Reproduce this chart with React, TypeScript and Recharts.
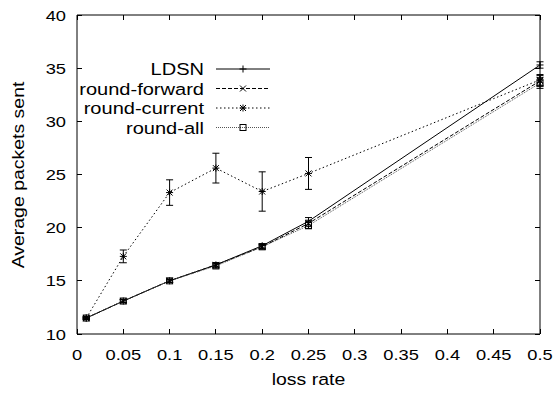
import React from 'react';
import { LineChart, Line, XAxis, YAxis, ErrorBar, Legend } from 'recharts';

// loss rate on x, average packets sent on y
const lossRate = [0.01, 0.05, 0.1, 0.15, 0.2, 0.25, 0.5];
const ldsn = [11.5, 13.1, 15.0, 16.5, 18.3, 20.6, 35.3];
const ldsnErr = [0.1, 0.15, 0.15, 0.2, 0.2, 0.35, 0.3];
const roundForward = [11.5, 13.1, 15.0, 16.5, 18.2, 20.4, 33.8];
const roundForwardErr = [0.1, 0.15, 0.15, 0.2, 0.2, 0.3, 0.5];
const roundCurrent = [11.5, 17.3, 23.3, 25.6, 23.4, 25.1, 33.9];
const roundCurrentErr = [0.1, 0.6, 1.2, 1.4, 1.85, 1.5, 0.5];
const roundAll = [11.5, 13.1, 15.0, 16.4, 18.2, 20.2, 33.6];
const roundAllErr = [0.1, 0.15, 0.15, 0.2, 0.2, 0.3, 0.5];

const xTicks = [0, 0.05, 0.1, 0.15, 0.2, 0.25, 0.3, 0.35, 0.4, 0.45, 0.5];
const yTicks = [10, 15, 20, 25, 30, 35, 40];

const data = lossRate.map((x, i) => ({
  x,
  ldsn: ldsn[i], ldsnErr: ldsnErr[i],
  roundForward: roundForward[i], roundForwardErr: roundForwardErr[i],
  roundCurrent: roundCurrent[i], roundCurrentErr: roundCurrentErr[i],
  roundAll: roundAll[i], roundAllErr: roundAllErr[i],
}));

const FONT = '"Liberation Sans", Arial, Helvetica, sans-serif';
const SX = 1.18; // the original text is a bit wider than Arial
const TICK = 5;
const PLOT_W = 463;
const PLOT_H = 319;

const SText = ({ x, y, size, anchor = 'middle', rotate = 0, children }: any) => (
  <text
    transform={`translate(${x},${y}) rotate(${rotate}) scale(${SX},1)`}
    textAnchor={anchor}
    fontSize={size}
    fontFamily={FONT}
    fill="#000"
    stroke="none"
  >
    {children}
  </text>
);

type Mk = 'plus' | 'cross' | 'star' | 'square';

const Marker = ({ cx, cy, kind }: { cx: number; cy: number; kind: Mk }) => {
  if (cx == null || cy == null) return null;
  const s = 3.5;
  const plus = <path d={`M${cx - s},${cy}H${cx + s}M${cx},${cy - s}V${cy + s}`} />;
  const cross = <path d={`M${cx - 3},${cy - 3}L${cx + 3},${cy + 3}M${cx - 3},${cy + 3}L${cx + 3},${cy - 3}`} />;
  return (
    <g stroke="#000" strokeWidth={1} fill="none">
      {kind === 'plus' && plus}
      {kind === 'cross' && cross}
      {kind === 'star' && <>{plus}{cross}</>}
      {kind === 'square' && <rect x={cx - 3} y={cy - 3} width={6} height={6} />}
    </g>
  );
};

const dotOf = (kind: Mk) => (p: any) => <Marker key={`${kind}-${p.index}`} cx={p.cx} cy={p.cy} kind={kind} />;

const series = [
  { key: 'ldsn', name: 'LDSN', dash: undefined, color: '#000', kind: 'plus' as Mk },
  { key: 'roundForward', name: 'round-forward', dash: '4 2', color: '#000', kind: 'cross' as Mk },
  { key: 'roundCurrent', name: 'round-current', dash: '1.5 2.5', color: '#000', kind: 'star' as Mk },
  { key: 'roundAll', name: 'round-all', dash: '1 1', color: '#555', kind: 'square' as Mk },
];

// bottom axis tick: label below, inward tick on the bottom and mirrored on the top border
const BottomTick = ({ x, y, payload }: any) => (
  <g>
    <line x1={x} y1={y} x2={x} y2={y - TICK} stroke="#000" shapeRendering="crispEdges" />
    <line x1={x} y1={y - PLOT_H} x2={x} y2={y - PLOT_H + TICK} stroke="#000" shapeRendering="crispEdges" />
    <SText x={x} y={y + 26} size={15.5}>{String(payload.value)}</SText>
  </g>
);
const LeftTick = ({ x, y, payload }: any) => (
  <g>
    <line x1={x} y1={y} x2={x + TICK} y2={y} stroke="#000" shapeRendering="crispEdges" />
    <line x1={x + PLOT_W} y1={y} x2={x + PLOT_W - TICK} y2={y} stroke="#000" shapeRendering="crispEdges" />
    <SText x={x - 11} y={y + 5.5} size={15.5} anchor="end">{String(payload.value)}</SText>
  </g>
);

const LegendBox = () => (
  <svg width={557} height={140} style={{ display: 'block' }}>
    {series.map((s, i) => {
      const cy = 69 + i * 19.5;
      return (
        <g key={s.key}>
          <SText x={204} y={cy + 6} size={17} anchor="end">{s.name}</SText>
          <line x1={216} y1={cy} x2={270} y2={cy} stroke={s.color} strokeDasharray={s.dash} />
          <Marker cx={243} cy={cy} kind={s.kind} />
        </g>
      );
    })}
  </svg>
);

export default function App() {
  return (
    <div style={{ position: 'absolute', left: 0, top: 0, background: '#fff' }}>
      <LineChart width={557} height={400} data={data} margin={{ top: 14, right: 16, bottom: 0, left: 0 }}>
        <XAxis
          xAxisId="x" dataKey="x" type="number" domain={[0, 0.5]} ticks={xTicks} interval={0}
          height={66} stroke="#000" tickLine={false} tickSize={0} tickMargin={0} tick={<BottomTick />}
          label={({ viewBox }: any) => (
            <SText x={viewBox.x + viewBox.width / 2} y={385} size={16.5}>loss rate</SText>
          )}
        />
        <XAxis xAxisId="xt" orientation="top" dataKey="x" type="number" domain={[0, 0.5]} height={1} stroke="#000" tick={false} tickLine={false} />
        <YAxis
          yAxisId="y" type="number" domain={[10, 40]} ticks={yTicks} interval={0}
          width={77} stroke="#000" tickLine={false} tickSize={0} tickMargin={0} tick={<LeftTick />}
          label={() => (
            <SText x={24} y={175} size={16.5} rotate={-90}>Average packets sent</SText>
          )}
        />
        <YAxis yAxisId="yr" orientation="right" type="number" domain={[10, 40]} width={1} stroke="#000" tick={false} tickLine={false} />
        <Legend
          layout="horizontal" verticalAlign="middle" align="center"
          wrapperStyle={{ left: 0, top: 0, width: 557, height: 140 }}
          content={() => <LegendBox />}
        />
        {series.map((s) => (
          <Line
            key={s.key}
            xAxisId="x" yAxisId="y"
            dataKey={s.key} name={s.name}
            stroke={s.color} strokeWidth={1} strokeDasharray={s.dash}
            dot={dotOf(s.kind)} activeDot={false}
            isAnimationActive={false}
          >
            <ErrorBar dataKey={`${s.key}Err`} direction="y" width={3.5} stroke="#000" strokeWidth={1} />
          </Line>
        ))}
      </LineChart>
    </div>
  );
}
